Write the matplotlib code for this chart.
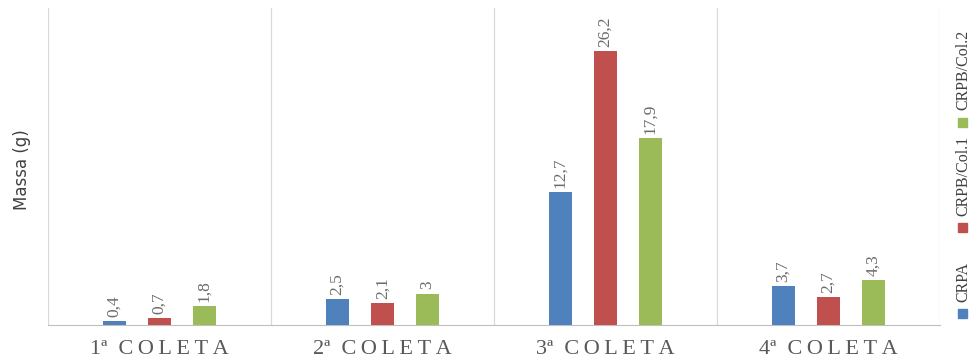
import matplotlib.pyplot as plt
import matplotlib.patches as mpatches
import numpy as np

categorias = ['1ª COLETA', '2ª COLETA', '3ª COLETA', '4ª COLETA']
series = ['CRPA', 'CRPB/Col.1', 'CRPB/Col.2']
crpa = [0.4, 2.5, 12.7, 3.7]
crpb_col1 = [0.7, 2.1, 26.2, 2.7]
crpb_col2 = [1.8, 3.0, 17.9, 4.3]
rotulos = [['0,4', '2,5', '12,7', '3,7'],
           ['0,7', '2,1', '26,2', '2,7'],
           ['1,8', '3', '17,9', '4,3']]

cores = ['#4F81BD', '#C0504D', '#9BBB59']
serif = ['Liberation Serif', 'DejaVu Serif']


def espacar(txt):
    # espaçamento entre letras só na palavra COLETA
    num, palavra = txt.split(' ')
    return num + '  ' + '\u2009'.join(palavra)


fig = plt.figure(figsize=(9.78, 3.61), dpi=100)
ax = fig.add_axes([0.049, 0.0997, 0.912, 0.878])

x = np.arange(len(categorias))
largura = 0.105
passo = 0.202
for i, (vals, cor) in enumerate(zip([crpa, crpb_col1, crpb_col2], cores)):
    barras = ax.bar(x + (i - 1) * passo, vals, width=largura, color=cor, zorder=3)
    for b, txt in zip(barras, rotulos[i]):
        ax.annotate(txt, (b.get_x() + b.get_width() / 2, b.get_height()),
                    xytext=(0, 3), textcoords='offset points',
                    rotation=90, ha='center', va='bottom',
                    fontsize=12.5, color='#6b6b6b', family=serif)

ax.set_xlim(-0.5, 3.5)
ax.set_ylim(0, 30.3)
ax.set_yticks([])
ax.set_xticks(x)
ax.set_xticklabels([espacar(c) for c in categorias], fontsize=16,
                   family=serif, color='#595959')
ax.tick_params(axis='x', length=0, pad=11)
for xv in np.arange(-0.5, 4.0, 1.0):
    ax.axvline(xv, color='#d9d9d9', lw=0.9, zorder=1)
for s in ['top', 'right', 'left']:
    ax.spines[s].set_visible(False)
ax.spines['bottom'].set_color('#bfbfbf')

fig.text(0.022, 0.53, 'Massa (g)', rotation=90, ha='center', va='center',
         fontsize=12, color='#404040')

# legenda vertical
leg_x = 963 / 978
marc_y = [313, 228, 122]
txt_y = [302, 216, 110]
for cor, nome, my, ty in zip(cores, series, marc_y, txt_y):
    fig.patches.append(mpatches.Rectangle((leg_x - 0.005, 1 - (my + 4.5) / 361), 0.0095, 9 / 361,
                                          color=cor, transform=fig.transFigure))
    fig.text(leg_x, 1 - ty / 361, nome, rotation=90, ha='center', va='bottom',
             fontsize=11.5, color='#404040', family=serif)

fig.savefig('out.png', dpi=100)
